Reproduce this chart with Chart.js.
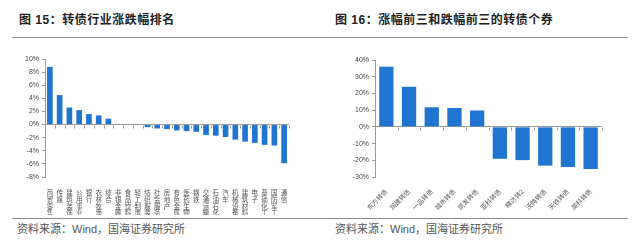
<!DOCTYPE html>
<html>
<head>
<meta charset="utf-8">
<script src="https://cdn.jsdelivr.net/npm/chart.js@4/dist/chart.umd.min.js"></script>
<style>
body { margin: 0; background: #fff; font-family: "Liberation Sans", "Noto Sans CJK SC", sans-serif; }
#page { position: relative; width: 640px; height: 245px; overflow: hidden; }
.title { position: absolute; top: 10px; font-size: 12px; font-weight: bold; color: #222; white-space: nowrap; letter-spacing: 0.5px; }
.rule { position: absolute; left: 12px; width: 616px; height: 1px; background: #8a8a8a; }
.source { position: absolute; top: 220px; font-size: 11px; color: #555; white-space: nowrap; }
.box { position: absolute; top: 50px; width: 300px; height: 165px; }
</style>
</head>
<body>
<div id="page">
  <div class="title" style="left:19px">图 15：转债行业涨跌幅排名</div>
  <div class="title" style="left:335px">图 16：涨幅前三和跌幅前三的转债个券</div>
  <div class="rule" style="top:37px"></div>
  <div class="box" style="left:0px"><canvas id="left"></canvas></div>
  <div class="box" style="left:320px"><canvas id="right"></canvas></div>
  <div class="rule" style="top:218px"></div>
  <div class="source" style="left:17px">资料来源：Wind，国海证券研究所</div>
  <div class="source" style="left:335px">资料来源：Wind，国海证券研究所</div>
</div>
<script>
// 图15: industry change (%)
let industries = ['商贸零售','传媒','建筑装饰','公用事业','银行','农林牧渔','综合','非银金融','食品饮料',
  '轻工制造','纺织服装','社会服务','房地产','有色金属','医药生物','钢铁','交通运输','石油石化',
  '汽车','机械设备','建筑材料','电子','基础化工','国防军工','通信'];
let industryChange = [8.8, 4.5, 2.6, 2.2, 1.6, 1.4, 0.9, 0.1, 0.05, -0.05, -0.4, -0.6, -0.7, -0.9,
  -1.0, -1.1, -1.6, -1.7, -1.9, -2.3, -2.6, -2.8, -3.1, -3.2, -5.9];

// 图16: top / bottom bonds (%)
let bonds = ['东方转债','润建转债','一品转债','城市转债','凯发转债','亚科转债','精达转2','沃特转债','天铁转债','英科转债'];
let bondChange = [36, 24, 11.7, 11.3, 9.8, -19.1, -19.9, -23.2, -24, -25.2];

let blue = '#1f75cf';
let axisGrey = '#9a9a9a';

// small tick marks on the zero line between categories
let zeroTicks = {
  id: 'zeroTicks',
  beforeDatasetsDraw(chart) {
    let x = chart.scales.x, y = chart.scales.y, c = chart.ctx;
    let y0 = Math.round(y.getPixelForValue(0)) + 0.5;
    c.save();
    c.strokeStyle = axisGrey;
    c.lineWidth = 1;
    c.beginPath();
    for (let i = 0; i <= chart.data.labels.length; i++) {
      let px = Math.round(x.getPixelForValue(i - 0.5)) + 0.5;
      c.moveTo(px, y0);
      c.lineTo(px, y0 + 3);
    }
    c.stroke();
    c.restore();
  }
};

function makeChart(id, labels, values, opts) {
  return new Chart(document.getElementById(id), {
    type: 'bar',
    data: {
      labels: labels,
      datasets: [{
        data: values,
        backgroundColor: blue,
        categoryPercentage: 1,
        barPercentage: opts.barPct
      }]
    },
    options: {
      responsive: true,
      maintainAspectRatio: false,
      animation: false,
      layout: { padding: { top: opts.padTop, right: opts.padRight, left: 0, bottom: 0 } },
      plugins: { legend: { display: false }, tooltip: { enabled: false } },
      scales: {
        x: {
          grid: { display: false },
          border: { display: false },
          afterFit: function(s) { s.height = 38; },
          ticks: {
            autoSkip: false,
            maxRotation: opts.rot,
            minRotation: opts.rot,
            padding: opts.xPad,
            color: '#555',
            font: { size: 6.5, family: '"Noto Sans CJK SC", sans-serif', lineHeight: 1.05 }
          }
        },
        y: {
          min: opts.min,
          max: opts.max,
          afterFit: function(s) { s.width = opts.yWidth; },
          border: { display: true, color: axisGrey },
          grid: {
            drawOnChartArea: true,
            tickLength: 3,
            tickColor: axisGrey,
            color: function(ctx) { return ctx.tick && ctx.tick.value === 0 ? axisGrey : 'rgba(0,0,0,0)'; }
          },
          ticks: {
            stepSize: opts.step,
            padding: 3,
            color: '#444',
            font: { size: 7, family: '"Liberation Sans", sans-serif' },
            callback: function(v) { return v + '%'; }
          }
        }
      }
    },
    plugins: [zeroTicks]
  });
}

// vertical labels: one character per line
let stacked = industries.map(function(s) { return s.split(''); });

makeChart('left', stacked, industryChange, {
  barPct: 0.58, padTop: 9, padRight: 11, rot: 0, xPad: 4,
  min: -8, max: 10, step: 2, yWidth: 45
});

makeChart('right', bonds, bondChange, {
  barPct: 0.63, padTop: 10, padRight: 18, rot: 45, xPad: 3,
  min: -30, max: 40, step: 10, yWidth: 55
});
</script>
</body>
</html>
